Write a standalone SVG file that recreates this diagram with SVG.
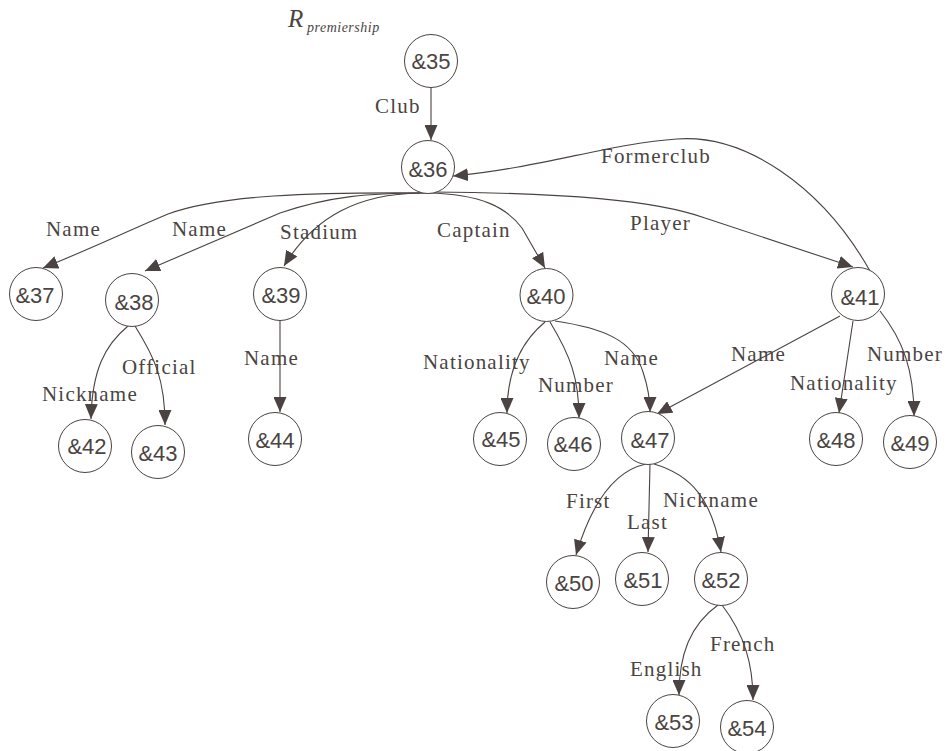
<svg xmlns="http://www.w3.org/2000/svg" width="951" height="751" viewBox="0 0 951 751">
  <defs>
    <marker id="arrow" viewBox="0 0 15 13" refX="15" refY="6.5" markerWidth="15" markerHeight="13" markerUnits="userSpaceOnUse" orient="auto">
      <path d="M0,0 L15,6.5 L0,13 z" fill="#4a4341"/>
    </marker>
    <style>
      .node circle { fill: #ffffff; stroke: #4a4341; stroke-width: 1; }
      .node text { font-family: "Liberation Sans", Arial, sans-serif; font-size: 22px; fill: #4a4442; text-anchor: middle; }
      .edges path { fill: none; stroke: #4a4341; stroke-width: 1.1; marker-end: url(#arrow); }
      .lbl { font-family: "Liberation Serif", "Times New Roman", serif; font-size: 21px; letter-spacing: 1.2px; fill: #4a4442; }
      .title { font-family: "Liberation Serif", "Times New Roman", serif; font-style: italic; fill: #4a4442; }
    </style>
  </defs>
  <rect width="951" height="751" fill="#ffffff"/>

  <!-- relation name -->
  <text class="title" x="288" y="27" font-size="25">R</text>
  <text class="title" x="307" y="32" font-size="14" letter-spacing="0.5">premiership</text>

  <!-- connectors -->
  <g id="edges" class="edges">
    <path d="M431,88 L431,140"/>
    <path d="M430,193 C310,192 220,195 168,214 C130,230 90,249 43,268"/>
    <path d="M425,193 C370,193 330,196 280,213 L145,271"/>
    <path d="M420,193 C360,194 315,215 284,266"/>
    <path d="M428,193 C482,194 507,208 522,228 L545,268"/>
    <path d="M432,192 C565,193 655,200 705,218 L853,267"/>
    <path d="M870,271 C822,186 745,134 677,139 C612,143 540,168 453,176"/>
    <path d="M128,326 C105,345 92,370 91,419"/>
    <path d="M135,326 C155,358 165,380 165,425"/>
    <path d="M280,320 L280,412"/>
    <path d="M545,322 C522,341 507,370 507,413"/>
    <path d="M550,322 C570,355 579,378 579,418"/>
    <path d="M555,321 C603,328 633,340 643,372 C648,387 650,400 650,412"/>
    <path d="M840,316 L657,414"/>
    <path d="M853,321 L839,413"/>
    <path d="M880,311 C903,340 914,370 914,416"/>
    <path d="M646,464 C613,471 591,505 576,555"/>
    <path d="M650,464 L648,552"/>
    <path d="M654,464 C692,475 712,500 721,552"/>
    <path d="M718,605 C690,625 679,655 679,695"/>
    <path d="M722,605 C745,635 753,665 753,700"/>
  </g>

  <!-- connector labels -->
  <g id="edge-labels">
    <text class="lbl" x="375" y="113">Club</text>
    <text class="lbl" x="46" y="236">Name</text>
    <text class="lbl" x="172" y="236">Name</text>
    <text class="lbl" x="280" y="239">Stadium</text>
    <text class="lbl" x="437" y="237">Captain</text>
    <text class="lbl" x="630" y="230">Player</text>
    <text class="lbl" x="601" y="163">Formerclub</text>
    <text class="lbl" x="122" y="374">Official</text>
    <text class="lbl" x="42" y="401">Nickname</text>
    <text class="lbl" x="244" y="365">Name</text>
    <text class="lbl" x="423" y="369">Nationality</text>
    <text class="lbl" x="538" y="392">Number</text>
    <text class="lbl" x="604" y="365">Name</text>
    <text class="lbl" x="731" y="361">Name</text>
    <text class="lbl" x="790" y="390">Nationality</text>
    <text class="lbl" x="867" y="361">Number</text>
    <text class="lbl" x="566" y="508">First</text>
    <text class="lbl" x="627" y="529">Last</text>
    <text class="lbl" x="663" y="507">Nickname</text>
    <text class="lbl" x="710" y="651">French</text>
    <text class="lbl" x="630" y="676">English</text>
  </g>

  <!-- nodes -->
  <g id="n35" class="node"><circle cx="431" cy="61" r="26.5"/><text x="431" y="69">&amp;35</text></g>
  <g id="n36" class="node"><circle cx="428" cy="167" r="26.5"/><text x="428" y="177">&amp;36</text></g>
  <g id="n37" class="node"><circle cx="36" cy="294" r="26.5"/><text x="35" y="303">&amp;37</text></g>
  <g id="n38" class="node"><circle cx="132" cy="300" r="26.5"/><text x="134" y="310">&amp;38</text></g>
  <g id="n39" class="node"><circle cx="280" cy="294" r="26.5"/><text x="281" y="303">&amp;39</text></g>
  <g id="n40" class="node"><circle cx="546.5" cy="295" r="26.5"/><text x="546" y="304">&amp;40</text></g>
  <g id="n41" class="node"><circle cx="858" cy="294" r="26.5"/><text x="860" y="305">&amp;41</text></g>
  <g id="n42" class="node"><circle cx="85" cy="446" r="26.5"/><text x="87" y="454">&amp;42</text></g>
  <g id="n43" class="node"><circle cx="158" cy="452" r="26.5"/><text x="158" y="461">&amp;43</text></g>
  <g id="n44" class="node"><circle cx="275" cy="439" r="26.5"/><text x="275" y="448">&amp;44</text></g>
  <g id="n45" class="node"><circle cx="500" cy="439" r="26.5"/><text x="501" y="447">&amp;45</text></g>
  <g id="n46" class="node"><circle cx="574" cy="444" r="26.5"/><text x="573" y="452">&amp;46</text></g>
  <g id="n47" class="node"><circle cx="648" cy="438" r="26.5"/><text x="650" y="448">&amp;47</text></g>
  <g id="n48" class="node"><circle cx="836" cy="439" r="26.5"/><text x="836" y="448">&amp;48</text></g>
  <g id="n49" class="node"><circle cx="910" cy="442" r="26.5"/><text x="910" y="451">&amp;49</text></g>
  <g id="n50" class="node"><circle cx="573" cy="582" r="26.5"/><text x="574" y="591">&amp;50</text></g>
  <g id="n51" class="node"><circle cx="642" cy="579" r="26.5"/><text x="643" y="588">&amp;51</text></g>
  <g id="n52" class="node"><circle cx="721" cy="579" r="26.5"/><text x="721" y="588">&amp;52</text></g>
  <g id="n53" class="node"><circle cx="673" cy="721" r="26.5"/><text x="674" y="730">&amp;53</text></g>
  <g id="n54" class="node"><circle cx="747" cy="727" r="26.5"/><text x="747" y="736">&amp;54</text></g>
</svg>
